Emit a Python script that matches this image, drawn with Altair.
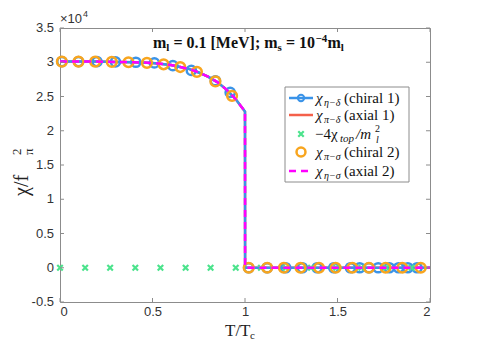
import altair as alt
import pandas as pd

# ---------------- data (values in units of 1e4) ----------------
line_T = [0.0, 0.1, 0.2, 0.3, 0.4, 0.5, 0.6, 0.65, 0.7, 0.75, 0.8, 0.85, 0.9, 0.95, 1.0, 1.0005, 2.0]
line_V = [3.01, 3.01, 3.01, 3.005, 3.0, 2.99, 2.96, 2.93, 2.90, 2.85, 2.79, 2.71, 2.60, 2.46, 2.28, 0.0, 0.0]

blue_T = [0.01, 0.1, 0.2, 0.3, 0.41, 0.51, 0.61, 0.71, 0.84, 0.92,
          1.02, 1.12, 1.22, 1.31, 1.39, 1.48, 1.57, 1.62, 1.67, 1.72, 1.78, 1.83, 1.88, 1.93]
blue_V = [3.01, 3.01, 3.01, 3.005, 3.0, 2.99, 2.95, 2.88, 2.73, 2.56,
          0, 0, 0, 0, 0, 0, 0, 0, 0, 0, 0, 0, 0, 0]

orange_T = [0.01, 0.1, 0.19, 0.28, 0.37, 0.47, 0.56, 0.65, 0.74, 0.84, 0.93,
            1.02, 1.12, 1.21, 1.30, 1.40, 1.49, 1.58, 1.67, 1.76, 1.85, 1.95]
orange_V = [3.01, 3.01, 3.01, 3.005, 3.0, 2.99, 2.97, 2.93, 2.86, 2.72, 2.51,
            0, 0, 0, 0, 0, 0, 0, 0, 0, 0, 0]

green_T = [0.0, 0.136, 0.271, 0.407, 0.543, 0.679, 0.814, 0.95, 1.086, 1.221, 1.357, 1.493, 1.629, 1.764, 1.9]
green_V = [0] * 15

x_ticks = [0, 0.5, 1, 1.5, 2]
y_ticks = [-0.5, 0, 0.5, 1, 1.5, 2, 2.5, 3, 3.5]
y_tick_labels = ["-0.5", "0", "0.5", "1", "1.5", "2", "2.5", "3", "3.5"]

BLUE = "#3A93E8"
RED = "#F4604A"
GREEN = "#4BE38C"
ORANGE = "#F8A51E"
MAGENTA = "#FF00FF"
GRAY = "#8c8c8c"
SERIF = "Liberation Serif"
INK = "#111111"
LAB = "#333333"

W, H = 370, 274

line_df = pd.DataFrame({"T": line_T, "V": line_V})
blue_df = pd.DataFrame({"T": blue_T, "V": blue_V})
orange_df = pd.DataFrame({"T": orange_T, "V": orange_V})
green_df = pd.DataFrame({"T": green_T, "V": green_V})

xs = alt.Scale(domain=[0, 2], nice=False, zero=False)
ys = alt.Scale(domain=[-0.5, 3.5], nice=False, zero=False)

xax = alt.Axis(values=x_ticks, format="~g", title=None, ticks=False, domain=False, grid=False,
               labelOverlap=False, labelPadding=3, labelFont="Liberation Sans", labelFontSize=13,
               labelColor=LAB)
yax = alt.Axis(values=y_ticks, title=None, ticks=False, domain=False, grid=False, labels=False)

base_x = alt.X("T:Q", scale=xs, axis=xax)
base_y = alt.Y("V:Q", scale=ys, axis=yax)

red_line = alt.Chart(line_df).mark_line(color=RED, strokeWidth=2.5).encode(x=base_x, y=base_y)
blue_line = alt.Chart(line_df).mark_line(color=BLUE, strokeWidth=2.5).encode(x="T:Q", y="V:Q")
blue_pts = alt.Chart(blue_df).mark_point(shape="circle", filled=False, color=BLUE, strokeWidth=2.5,
                                         size=85, opacity=1).encode(x="T:Q", y="V:Q")
XPATH = "M-1,-1L1,1M-1,1L1,-1"
green_pts = alt.Chart(green_df).mark_point(shape=XPATH, filled=False, color=GREEN, strokeWidth=2.2,
                                           size=30, opacity=1).encode(x="T:Q", y="V:Q")
orange_pts = alt.Chart(orange_df).mark_point(shape="circle", filled=False, color=ORANGE, strokeWidth=2.5,
                                             size=95, opacity=1).encode(x="T:Q", y="V:Q")
mag_line = alt.Chart(line_df).mark_line(color=MAGENTA, strokeWidth=2.5, strokeDash=[7, 5]).encode(x="T:Q", y="V:Q")

# inward ticks and y tick labels
xt_df = pd.DataFrame({"T": x_ticks})
yt_df = pd.DataFrame({"V": y_ticks, "lab": y_tick_labels})
tick_b = alt.Chart(xt_df).mark_rule(color=GRAY).encode(x="T:Q", y=alt.value(H), y2=alt.value(H - 4))
tick_t = alt.Chart(xt_df).mark_rule(color=GRAY).encode(x="T:Q", y=alt.value(0), y2=alt.value(4))
tick_l = alt.Chart(yt_df).mark_rule(color=GRAY).encode(y="V:Q", x=alt.value(0), x2=alt.value(4))
tick_r = alt.Chart(yt_df).mark_rule(color=GRAY).encode(y="V:Q", x=alt.value(W), x2=alt.value(W - 4))
ylabels = alt.Chart(yt_df).mark_text(align="right", baseline="middle", font="Liberation Sans",
                                     fontSize=13, color=LAB).encode(
    y="V:Q", x=alt.value(-6), text="lab:N")

one = pd.DataFrame({"k": [0]})


def txt(s, px, py, size, **kw):
    kw.setdefault("align", "left")
    kw.setdefault("baseline", "alphabetic")
    kw.setdefault("color", INK)
    return alt.Chart(pd.DataFrame({"s": [s]})).mark_text(fontSize=size, **kw).encode(
        x=alt.value(px), y=alt.value(py), text="s:N")


layers = [red_line, blue_line, blue_pts, green_pts, orange_pts, mag_line,
          tick_b, tick_t, tick_l, tick_r, ylabels]

# x10^4 exponent label
layers.append(txt("\u00d710", 0, -5, 13, font="Liberation Sans", color=LAB))
layers.append(txt("4", 23, -11, 9, font="Liberation Sans", color=LAB))

# title
TB = dict(font=SERIF, fontWeight="bold")
ty = 20
layers.append(txt("m", 93, ty, 16, **TB))
layers.append(txt("l", 106.3, ty + 3, 11, **TB))
layers.append(txt("= 0.1 [MeV]; m", 113.4, ty, 16, **TB))
layers.append(txt("s", 217.6, ty + 3, 11, **TB))
layers.append(txt("= 10", 225.9, ty, 16, **TB))
layers.append(txt("\u22124", 255.5, ty - 6, 11, **TB))
layers.append(txt("m", 267.5, ty, 16, **TB))
layers.append(txt("l", 280.8, ty + 3, 11, **TB))

# x title
layers.append(txt("T/T", 165, 308, 17, font=SERIF, color="#222222"))
layers.append(txt("c", 190, 311, 11, font=SERIF, color="#222222"))
# y title (rotated)
layers.append(txt("\u03c7/f", -32, 168, 20, font=SERIF, angle=270, color="#222222"))
layers.append(txt("2", -39, 127, 13, font=SERIF, angle=270, color="#222222"))
layers.append(txt("\u03c0", -27, 127, 13, font=SERIF, angle=270, color="#222222"))

# legend box
layers.append(alt.Chart(one).mark_rect(fill="white", stroke=GRAY, strokeWidth=1).encode(
    x=alt.value(225), x2=alt.value(349), y=alt.value(59), y2=alt.value(154)))
row_y = [70, 87, 106, 124, 143]
layers.append(alt.Chart(one).mark_rule(color=BLUE, strokeWidth=2.5).encode(
    x=alt.value(229), x2=alt.value(253), y=alt.value(row_y[0])))
layers.append(alt.Chart(one).mark_point(shape="circle", filled=False, color=BLUE, strokeWidth=2, size=40, opacity=1).encode(
    x=alt.value(241), y=alt.value(row_y[0])))
layers.append(alt.Chart(one).mark_rule(color=RED, strokeWidth=2.5).encode(
    x=alt.value(229), x2=alt.value(253), y=alt.value(row_y[1])))
layers.append(alt.Chart(one).mark_point(shape=XPATH, filled=False, color=GREEN, strokeWidth=2.2, size=30, opacity=1).encode(
    x=alt.value(241), y=alt.value(row_y[2])))
layers.append(alt.Chart(one).mark_point(shape="circle", filled=False, color=ORANGE, strokeWidth=2.5, size=80, opacity=1).encode(
    x=alt.value(241), y=alt.value(row_y[3])))
layers.append(alt.Chart(one).mark_rule(color=MAGENTA, strokeWidth=2.5, strokeDash=[7, 5]).encode(
    x=alt.value(229), x2=alt.value(253), y=alt.value(row_y[4])))

legend_rows = [("\u03b7\u2212\u03b4", "(chiral 1)"), ("\u03c0\u2212\u03b4", "(axial 1)"), None,
               ("\u03c0\u2212\u03c3", "(chiral 2)"), ("\u03b7\u2212\u03c3", "(axial 2)")]
for i, r in enumerate(legend_rows):
    yb = row_y[i] + 5
    if r is None:
        layers.append(txt("\u22124\u03c7", 255, yb, 15, font=SERIF))
        layers.append(txt("top", 280, yb + 3, 11, font=SERIF, fontStyle="italic"))
        layers.append(txt("/m", 296, yb, 15, font=SERIF, fontStyle="italic"))
        layers.append(txt("2", 315, yb - 7, 10, font=SERIF))
        layers.append(txt("l", 316, yb + 4, 10, font=SERIF, fontStyle="italic"))
    else:
        layers.append(txt("\u03c7", 256, yb, 15, font=SERIF, fontStyle="italic"))
        layers.append(txt(r[0], 264, yb + 3, 10, font=SERIF, fontStyle="italic"))
        layers.append(txt(r[1], 284, yb, 15, font=SERIF))

chart = alt.layer(*layers).properties(
    width=W, height=H,
    autosize=alt.AutoSizeParams(type="none"),
    padding={"left": 52, "top": 20, "right": 50, "bottom": 40},
    background="white",
).configure_view(stroke=GRAY, strokeWidth=1)

chart.save("out.html", embed_options={"renderer": "svg", "actions": False})
